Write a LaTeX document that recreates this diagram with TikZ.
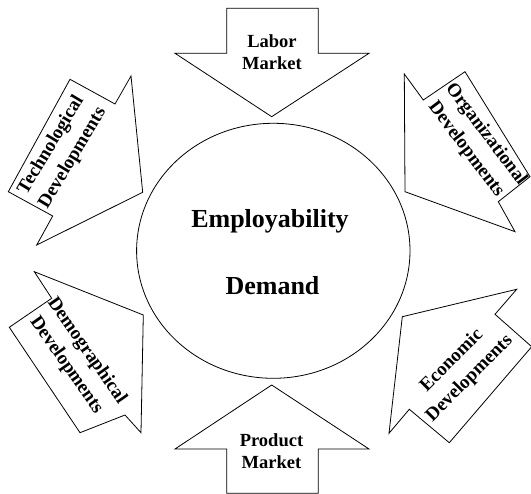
\documentclass[tikz,border=0pt]{standalone}
\usepackage{fontspec}
\setmainfont{Liberation Serif}
\begin{document}
\begin{tikzpicture}[x=1pt,y=-1pt,
  outl/.style={draw=black,line width=0.8pt,fill=white,line join=miter},
  lbl/.style={font=\fontsize{18.5}{22}\selectfont\bfseries,align=center,inner sep=0pt},
  rlbl/.style={font=\fontsize{19}{25}\selectfont\bfseries,align=center,inner sep=0pt},
  big/.style={font=\fontsize{26}{30}\selectfont\bfseries,inner sep=0pt,anchor=base}]
\useasboundingbox (0,0) rectangle (531,494);
% centre ellipse
\draw[outl] (273.3,250.8) ellipse [x radius=136.7, y radius=127.5];
\node[big] (emp) at (270,228) {Employability};
\node[big] (dem) at (272.5,295) {Demand};
% Labor market (down)
\draw[outl] (226.7,8.3) -- (318.3,8.3) -- (318.3,53.3) -- (369,53.3) -- (271.7,116.7) -- (175,53.3) -- (226.7,53.3) -- cycle;
\node[lbl] (labor) at (272,52) {Labor\\Market};
% Product market (up)
\draw[outl] (226.7,493.3) -- (318.3,493.3) -- (318.3,449) -- (369,449) -- (271.7,385) -- (175,449) -- (226.7,449) -- cycle;
\node[lbl] (product) at (271.5,451) {Product\\Market};
% Technological
\draw[outl] (70,79.3) -- (115,104) -- (131,76) -- (142.7,192.3) -- (36.7,245) -- (52.7,216) -- (8.3,191.7) -- cycle;
\node[rlbl,rotate=59] (tech) at (62,151.5) {Technological\\Developments};
% Organizational
\draw[outl] (404.3,74) -- (423.3,100) -- (465,71.7) -- (530,176.7) -- (498.3,201.7) -- (515,231.7) -- (405,191.7) -- cycle;
\node[rlbl,rotate=-53] (org) at (476,142) {Organizational\\Developments};
% Demographical
\draw[outl] (34.3,271.7) -- (51.7,298.3) -- (9.3,327.3) -- (80,432.7) -- (125,415) -- (141,432.7) -- (143.3,315) -- cycle;
\node[rlbl,rotate=-55] (demo) at (76.5,358) {Demographical\\Developments};
% Economic
\draw[outl] (402.3,316.7) -- (516.7,289.3) -- (495,314.3) -- (531.7,346.7) -- (449.3,442.7) -- (409.3,409.3) -- (389,433.3) -- cycle;
\node[rlbl,rotate=45] (econ) at (460.8,369.8) {Economic\\Developments};
\end{tikzpicture}
\end{document}
